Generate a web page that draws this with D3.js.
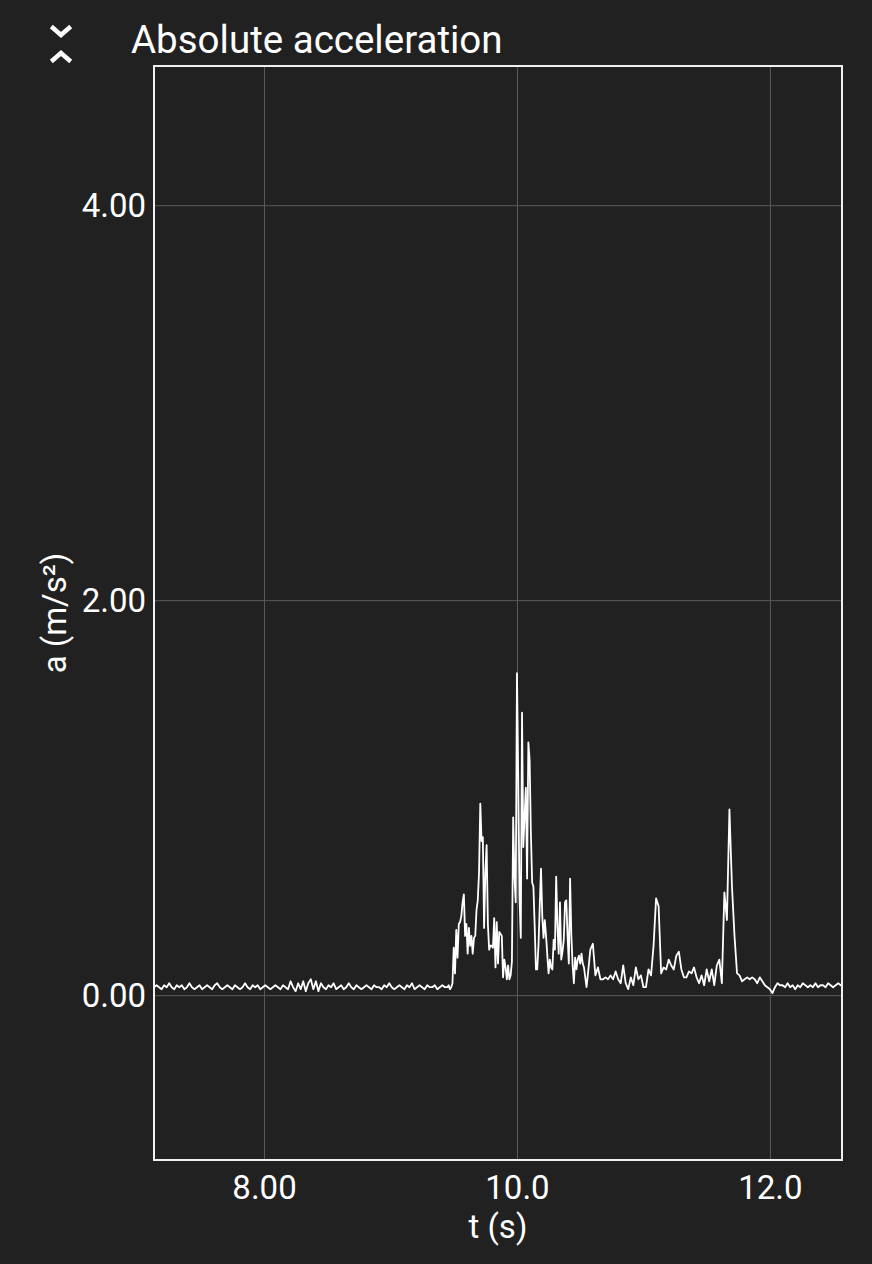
<!DOCTYPE html>
<html>
<head>
<meta charset="utf-8">
<script src="https://cdn.jsdelivr.net/npm/d3@7"></script>
<style>
html, body { margin: 0; background: #212121; }
svg { display: block; font-family: Roboto, "Noto Sans", sans-serif; }
</style>
</head>
<body>
<svg id="chart" width="872" height="1264"></svg>
<script>
// recorded samples, |a| in m/s^2, three stretches with their own sample step
var quietStart = 7.13, quietStep = 0.02;
var quietAccel = [
  0.04,0.05,0.04,0.03,0.05,0.04,0.06,0.04,0.03,0.05,
  0.04,0.05,0.03,0.04,0.06,0.04,0.03,0.04,0.05,0.03,
  0.04,0.05,0.04,0.03,0.05,0.06,0.04,0.03,0.04,0.05,
  0.04,0.03,0.05,0.04,0.03,0.04,0.06,0.04,0.03,0.05,
  0.04,0.05,0.03,0.04,0.05,0.04,0.03,0.04,0.05,0.04,
  0.03,0.05,0.04,0.03,0.07,0.04,0.02,0.06,0.03,0.07,
  0.02,0.06,0.08,0.03,0.07,0.02,0.06,0.04,0.03,0.05,
  0.04,0.06,0.03,0.04,0.05,0.03,0.04,0.06,0.04,0.03,
  0.05,0.04,0.03,0.04,0.05,0.04,0.03,0.05,0.04,0.04,
  0.03,0.05,0.04,0.06,0.04,0.03,0.04,0.05,0.04,0.03,
  0.05,0.04,0.06,0.03,0.04,0.05,0.04,0.03,0.05,0.04,
  0.04,0.05,0.03,0.04,0.05,0.04
];

var burstStart = 9.45, burstStep = 0.01;
var burstAccel = [
  0.04,0.05,0.03,0.04,0.06,0.24,0.11,0.33,0.19,0.36,
  0.37,0.40,0.47,0.51,0.30,0.36,0.21,0.34,0.25,0.30,
  0.21,0.29,0.30,0.43,0.48,0.62,0.97,0.78,0.80,0.34,
  0.62,0.76,0.36,0.23,0.25,0.25,0.24,0.39,0.14,0.37,
  0.16,0.32,0.31,0.30,0.09,0.18,0.14,0.08,0.15,0.08,
  0.10,0.17,0.90,0.60,0.47,1.63,1.10,0.50,0.29,1.43,
  0.75,0.90,1.05,0.59,1.28,1.19,0.82,0.57,0.55,0.35,
  0.13,0.13,0.25,0.45,0.64,0.40,0.29,0.38,0.30,0.20,
  0.11,0.18,0.14,0.13,0.28,0.23,0.60,0.35,0.21,0.47,
  0.18,0.22,0.28,0.47,0.48,0.30,0.16,0.59,0.30,0.15,
  0.06,0.19,0.13,0.18,0.20,0.16,0.21,0.16,0.14,0.09,
  0.04
];

var tailStart = 10.56, tailStep = 0.02;
var tailAccel = [
  0.10,0.23,0.26,0.10,0.14,0.08,0.08,0.09,0.08,0.10,
  0.08,0.12,0.08,0.06,0.15,0.06,0.03,0.09,0.05,0.14,
  0.08,0.10,0.04,0.04,0.13,0.10,0.25,0.49,0.45,0.11,
  0.14,0.13,0.18,0.15,0.13,0.20,0.22,0.13,0.09,0.09,
  0.12,0.11,0.14,0.09,0.06,0.10,0.05,0.13,0.07,0.13,
  0.05,0.15,0.18,0.06,0.52,0.38,0.94,0.55,0.30,0.11,
  0.10,0.07,0.08,0.09,0.08,0.09,0.08,0.06,0.09,0.07,
  0.05,0.04,0.03,0.01,0.04,0.06,0.05,0.05,0.04,0.06,
  0.04,0.05,0.03,0.05,0.04,0.06,0.05,0.04,0.05,0.04,
  0.06,0.04,0.05,0.05,0.04,0.06,0.05,0.04,0.05,0.06,
  0.05,0.05
];

var xTicks = [8, 10, 12];
var yTicks = [0, 2, 4];
var xDomain = [7.13, 12.57];
var yDomain = [-0.835, 4.705];

var title = 'Absolute acceleration';
var xLabel = 't (s)';
var yLabel = 'a (m/s²)';

function samples(start, step, values) {
  return values.map(function(v, i) { return { t: start + i * step, a: v }; });
}
var data = samples(quietStart, quietStep, quietAccel)
  .concat(samples(burstStart, burstStep, burstAccel))
  .concat(samples(tailStart, tailStep, tailAccel));

var svg = d3.select('#chart');
var plot_left = 154, plot_right = 842, plot_top = 66, plot_bottom = 1160;

var x = d3.scaleLinear().domain(xDomain).range([plot_left, plot_right]);
var y = d3.scaleLinear().domain(yDomain).range([plot_bottom, plot_top]);

// grid + tick labels
var xAxis = d3.axisBottom(x).tickValues(xTicks).tickFormat(d3.format('.3r'))
  .tickSize(-(plot_bottom - plot_top));
var yAxis = d3.axisLeft(y).tickValues(yTicks).tickFormat(d3.format('.2f'))
  .tickSize(-(plot_right - plot_left));

var gx = svg.append('g').attr('transform', 'translate(0,' + plot_bottom + ')').call(xAxis);
var gy = svg.append('g').attr('transform', 'translate(' + plot_left + ',0)').call(yAxis);
[gx, gy].forEach(function(g) {
  g.select('.domain').remove();
  g.selectAll('.tick line').attr('stroke', '#5a5a5a').attr('stroke-width', 1);
  g.selectAll('.tick text').attr('fill', '#ffffff').attr('font-size', 33)
    .attr('font-family', 'Roboto, sans-serif');
});
gx.selectAll('.tick text').attr('dy', null).attr('y', 39);
gy.selectAll('.tick text').attr('dy', '0.35em').attr('x', -8);

// signal
svg.append('clipPath').attr('id', 'plotclip').append('rect')
  .attr('x', plot_left).attr('y', plot_top)
  .attr('width', plot_right - plot_left).attr('height', plot_bottom - plot_top);

var line = d3.line().x(function(d) { return x(d.t); }).y(function(d) { return y(d.a); });
svg.append('path')
  .datum(data)
  .attr('clip-path', 'url(#plotclip)')
  .attr('d', line)
  .attr('fill', 'none')
  .attr('stroke', '#ffffff')
  .attr('stroke-width', 1.8)
  .attr('stroke-linejoin', 'round');

// frame
svg.append('rect')
  .attr('x', plot_left).attr('y', plot_top)
  .attr('width', plot_right - plot_left).attr('height', plot_bottom - plot_top)
  .attr('fill', 'none').attr('stroke', '#f0f0f0').attr('stroke-width', 2);

// labels
svg.append('text').attr('x', (plot_left + plot_right) / 2).attr('y', 1238)
  .attr('text-anchor', 'middle').attr('fill', '#fff').attr('font-size', 33).text(xLabel);
svg.append('text')
  .attr('transform', 'translate(66,' + ((plot_top + plot_bottom) / 2) + ') rotate(-90)')
  .attr('text-anchor', 'middle').attr('fill', '#fff').attr('font-size', 33).text(yLabel);

svg.append('text').attr('x', 131).attr('y', 53)
  .attr('fill', '#fff').attr('font-size', 38.5).text(title);

// collapse icon (chevron down over chevron up)
var icon = svg.append('g').attr('fill', 'none').attr('stroke', '#fff')
  .attr('stroke-width', 4.5).attr('stroke-linecap', 'square');
icon.append('path').attr('d', 'M53,28 L61,35 L69,28');
icon.append('path').attr('d', 'M53,60 L61,53 L69,60');
</script>
</body>
</html>
